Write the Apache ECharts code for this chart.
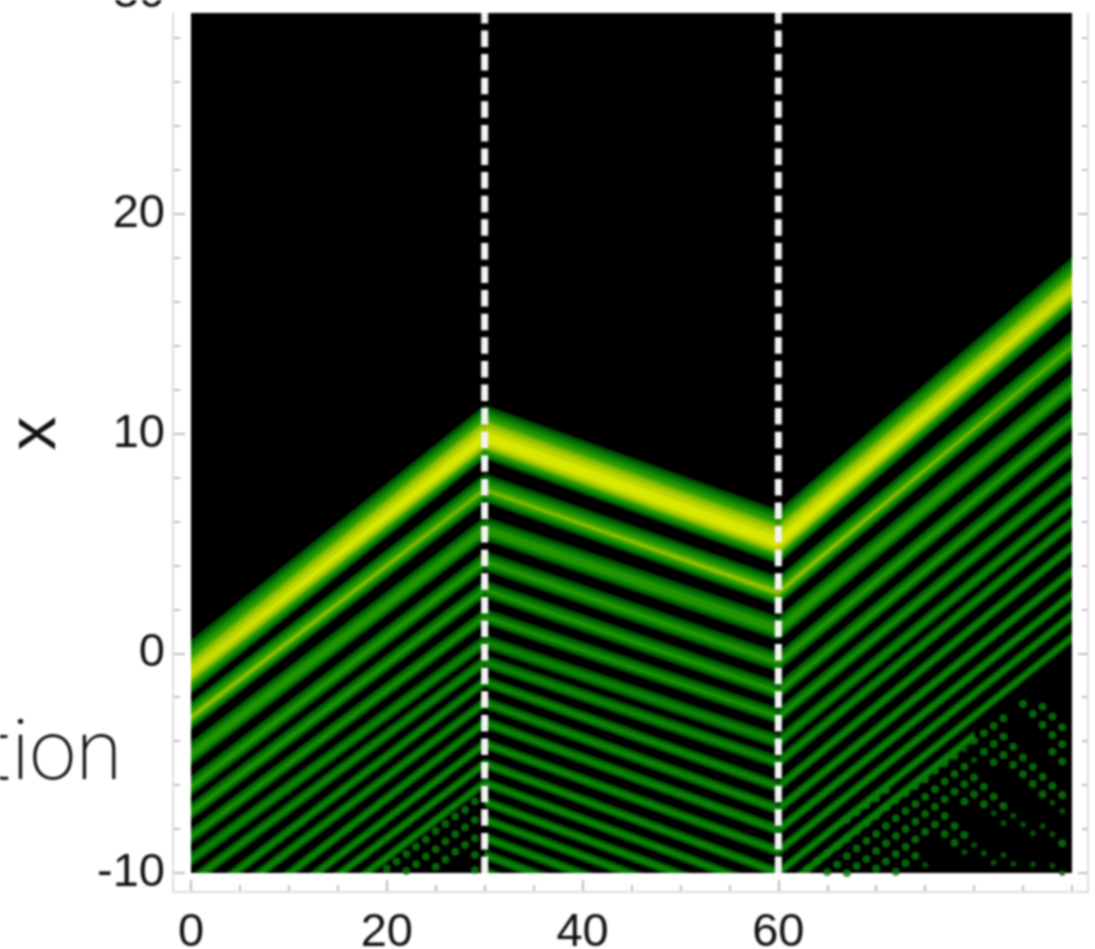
<!DOCTYPE html>
<html><head><meta charset="utf-8">
<style>html,body{margin:0;padding:0;background:#fff}#c{width:1095px;height:949px;filter:blur(0.9px)}</style>
<script src="https://cdn.jsdelivr.net/npm/echarts@6/dist/echarts.min.js"></script>
</head><body><div id="c"></div>
<script>
// ridge centre readings (x value of each fringe) at the four kink times
const knotTimes = [0, 30, 60, 90];
const ridgeAt0  = [-0.9,-2.94,-4.63,-6.09,-7.25,-8.37,-9.4,-10.4,-11.5,-12.4,-13.5,-14.4,-15.2,-16.1,-17.05,-17.8,-18.6,-19.4,-20.2];
const ridgeAt30 = [9.8,7.43,5.61,4.16,2.88,1.65,0.51,-0.4,-1.31,-2.26,-3.17,-4.13,-5.04,-5.9,-6.77,-7.59,-8.41,-9.18,-9.95];
const ridgeAt60 = [5.02,2.74,1.06,-0.44,-1.76,-2.9,-4.04,-4.99,-6.09,-7.1,-8.06,-9.02,-10,-10.9,-11.74,-12.53,-13.36,-14.2,-15];
const ridgeAt90 = [16.54,13.94,12.12,10.62,9.25,8.02,6.89,5.93,4.84,3.7,2.65,1.7,0.7,-0.17,-1.02,-1.81,-2.64,-3.4,-4.2];
// fringe extent above / below its centre, in x units
const ridgeUp   = [1.5,0.75,0.62,0.5,0.45,0.4,0.36,0.33,0.3,0.3,0.29,0.28,0.27,0.26,0.26,0.26,0.26,0.26,0.26];
const ridgeDown = [0.95,0.55,0.47,0.4,0.35,0.32,0.3,0.28,0.26,0.26,0.25,0.24,0.23,0.23,0.23,0.23,0.23,0.23,0.23];
// peak brightness (colour steps) of each fringe at the kink times
const peakAt0  = [6.15,4.5,3,2.6,2.4,2.2,2,2,2,2,2,2,2,2,2,2,2,2,2];
const peakAt30 = [7.5,4,3,2.6,2.4,2.2,2,2,2,2,2,2,2,2,2,2,2,2,2];
const peakAt60 = [7.5,4.5,3,2.6,2.4,2.2,2,2,2,2,2,2,2,2,2,2,2,2,2];
const peakAt90 = [6.15,3.5,2.8,2.4,2.2,2,2,2,2,2,2,2,2,2,2,2,2,2,2];
const lastRidgeInSegment = [13, 18, 13];
const solidEndOfRidge13 = 80;
const guideTimes = [30, 60];
// beaded spots in the sparse corners: time, then the x value of each spot
const dotTimes = [20,21,22,23,24,25,26,27,28,29,63,64,65,66,67,68,69,70,71,72,73,74,75,76,77,78,79,80,81,82,83,84,85,86,87,88,89];
const dotValues = [
 [-9.79],[-9.48],[-9.13,-9.91],[-8.8,-9.6],[-8.47,-9.25],[-8.09,-8.92,-9.71],[-7.77,-8.57,-9.38],[-7.43,-8.24,-9.03],[-7.13,-7.92,-8.72],[-6.75,-7.59,-8.42,-9.18,-9.86],
 [-9.81],[-9.46],[-9.11,-9.96],[-8.76,-9.61],
 [-7.56,-8.42,-9.23,-10],[-7.25,-8.09,-8.88,-9.68],[-6.9,-7.74,-8.53,-9.36],[-6.6,-7.39,-8.23,-9,-9.79],[-6.22,-7.01,-7.86,-8.65,-9.48],
 [-6.68,-7.51,-8.32,-9.14,-9.94],[-6.37,-7.18,-8,-8.8,-9.56],[-6.04,-6.86,-7.66,-8.47,-9.21],[-5.74,-6.53,-7.31,-8.12],[-5.34,-6.19,-6.98,-7.79],
 [-5.01,-5.84,-6.65,-7.41,-8.23],[-4.68,-5.49,-6.3,-7.86,-8.62],[-5.16,-5.96,-6.75,-8.27],[-3.98,-5.65,-6.42],[-3.64,-4.48,-6.07,-6.87],
 [-3.31,-4.13,-4.96,-6.53],[-2.96,-3.79,-4.63,-6.95],[-4.25,-5.08],[-2.31,-4.74,-5.51],[-2.76,-5.16,-5.95],[-2.43,-3.26,-5.62,-6.41],[-2.88,-3.72,-4.48,-6.04],[-3.37,-4.14,-4.93,-6.45,-8.65]
];
const faintTimes = [75,79,80,81,82,83,84,85,86,87,88,89];
const faintValues = [[-9.64],[-4.37,-9.06],[-4.86,-8.73],[-9.1],[-7.28,-9.53],[-7.74,-9.18],[-7.39,-9.59],[-7.79],[-8.2,-9.61],[-7.86],[-6.8,-8.24,-9.67],[-7.18,-10]];
const xLabelTicks = [0, 20, 40, 60, 80];
const yLabelTicks = [-10, 0, 10, 20, 30];

const palette = ['#005000','#067806','#209400','#52aa00','#90c200','#bcd400','#d6e800'];
const levelStops = [0, 0.9, 1.85, 3, 3.8, 4.8, 6];
const centres = [ridgeAt0, ridgeAt30, ridgeAt60, ridgeAt90];
const peaks = [peakAt0, peakAt30, peakAt60, peakAt90];

function renderRidge(params, api) {
  const k = api.value(0), children = [];
  for (let s = 0; s < 3; s++) {
    if (k > lastRidgeInSegment[s]) continue;
    const t0 = knotTimes[s], t1 = knotTimes[s + 1], c0 = centres[s][k], c1 = centres[s + 1][k];
    const endT = (s === 2 && k === 13) ? solidEndOfRidge13 : t1;
    const cEnd = c0 + (c1 - c0) * (endT - t0) / (t1 - t0);
    palette.forEach((fill, level) => {
      const f0 = 1 - levelStops[level] / peaks[s][k], f1 = 1 - levelStops[level] / peaks[s + 1][k];
      if (f0 <= 0 && f1 <= 0) return;
      const a = Math.max(f0, 0), b = Math.max(f1, 0);
      children.push({ type: 'polygon', shape: { points: [
        api.coord([t0, c0 + ridgeUp[k] * a]),
        api.coord([endT, cEnd + ridgeUp[k] * b]),
        api.coord([endT, cEnd - ridgeDown[k] * b]),
        api.coord([t0, c0 - ridgeDown[k] * a])
      ] }, style: { fill } });
    });
  }
  return { type: 'group', children };
}
const pairs = (ts, vs) => ts.flatMap((t, i) => vs[i].map(v => [t, v]));
const tickLine = { color: '#bdbdbd', width: 2 };
const labelFont = { color: '#111', fontFamily: '"Liberation Sans",Arial,sans-serif', fontSize: 47 };

const chart = echarts.init(document.getElementById('c'), null, { renderer: 'canvas' });
chart.setOption({
  animation: false,
  grid: [
    { left: 191, right: 23, top: -5.8, bottom: 76, outerBoundsMode: 'none', show: true, backgroundColor: '#000', borderWidth: 0, z: 2 },
    { left: 173, right: 7, top: -5.8, bottom: 57, outerBoundsMode: 'none', show: true, backgroundColor: 'transparent', borderColor: '#dedede', borderWidth: 2, z: 1 }
  ],
  xAxis: [
    { gridIndex: 0, type: 'value', min: 0, max: 90, interval: 20, position: 'bottom', offset: 19,
      axisLine: { show: false, onZero: false }, splitLine: { show: false },
      axisTick: { show: true, inside: true, length: 12, lineStyle: tickLine, customValues: xLabelTicks },
      axisLabel: { ...labelFont, margin: 18, customValues: xLabelTicks, showMaxLabel: false } },
    { gridIndex: 0, type: 'value', min: 0, max: 90, interval: 5, position: 'bottom', offset: 19,
      axisLine: { show: false, onZero: false }, splitLine: { show: false },
      axisTick: { show: true, inside: true, length: 7, lineStyle: tickLine }, axisLabel: { show: false } }
  ],
  yAxis: [
    { gridIndex: 0, type: 'value', min: -10, max: 30, interval: 10, position: 'left', offset: 18,
      name: 'x', nameLocation: 'middle', nameGap: 103, nameRotate: 90,
      nameTextStyle: { color: '#111', fontFamily: '"Liberation Sans",Arial,sans-serif', fontSize: 68 },
      axisLine: { show: false, onZero: false }, splitLine: { show: false },
      axisTick: { show: true, inside: true, length: 12, lineStyle: tickLine },
      minorTick: { show: true, splitNumber: 5, length: 7, lineStyle: tickLine },
      axisLabel: { ...labelFont, margin: 8, customValues: yLabelTicks } },
    { gridIndex: 0, type: 'value', min: -10, max: 30, interval: 10, position: 'right', offset: 16,
      axisLine: { show: false, onZero: false }, splitLine: { show: false },
      axisTick: { show: true, inside: true, length: 10, lineStyle: tickLine },
      minorTick: { show: true, splitNumber: 5, length: 6, lineStyle: tickLine },
      axisLabel: { show: false } }
  ],
  graphic: [
    { type: 'rect', z: 100, silent: true, shape: { x: 168, y: 0, width: 927, height: 13 }, style: { fill: '#fff' } },
    { type: 'text', z: 100, silent: true, x: 122, y: 800, style: { text: 'tion', textAlign: 'right', textVerticalAlign: 'bottom', fill: '#111',
        fontFamily: 'Roboto,"Open Sans",sans-serif', fontWeight: 200, fontSize: 84 } }
  ],
  series: [
    { type: 'custom', coordinateSystem: 'cartesian2d', xAxisIndex: 0, yAxisIndex: 0, clip: true, silent: true, z: 3,
      renderItem: renderRidge, data: ridgeAt30.map((_, k) => [k]) },
    { type: 'scatter', xAxisIndex: 0, yAxisIndex: 0, silent: true, z: 3, symbolSize: 8, itemStyle: { color: '#0a7a0a' }, data: pairs(dotTimes, dotValues) },
    { type: 'scatter', xAxisIndex: 0, yAxisIndex: 0, silent: true, z: 3, symbolSize: 6, itemStyle: { color: '#076407' }, data: pairs(faintTimes, faintValues) },
    ...guideTimes.map(t => ({ type: 'line', xAxisIndex: 0, yAxisIndex: 0, silent: true, z: 5, showSymbol: false,
      data: [[t, -10], [t, 30]], lineStyle: { color: '#f2f2f2', width: 7, type: [16.5, 7.1], cap: 'butt' } }))
  ]
});
</script></body></html>
